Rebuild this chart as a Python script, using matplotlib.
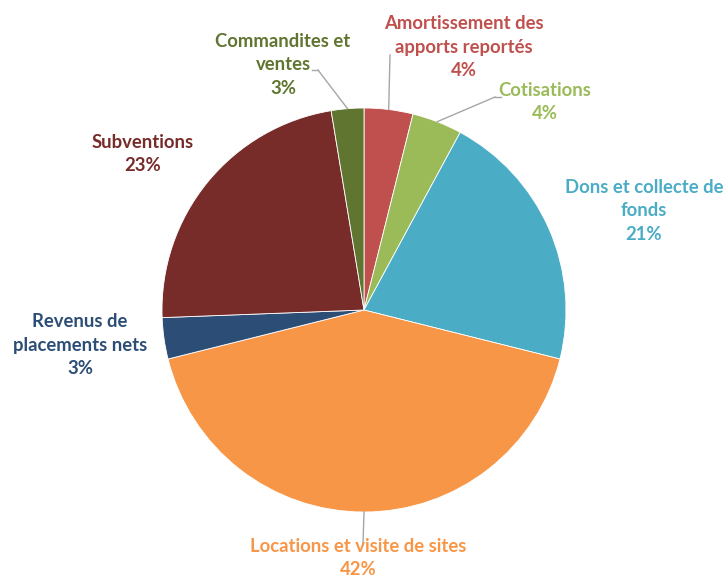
import numpy as np
import matplotlib
matplotlib.use("Agg")
import matplotlib.pyplot as plt

# --- donnees ---
categories = ["Amortissement des\napports reportés", "Cotisations",
              "Dons et collecte de\nfonds", "Locations et visite de sites",
              "Revenus de\nplacements nets", "Subventions", "Commandites et\nventes"]
valeurs = [3.9, 4.0, 21.0, 42.2, 3.3, 23.0, 2.6]
pourcent = ["4%", "4%", "21%", "42%", "3%", "23%", "3%"]
couleurs = ["#C0504D", "#9BBB59", "#4BACC6", "#F79646", "#2C4D75", "#772C2A", "#5F7530"]

# position des etiquettes (pixels, origine en haut a gauche) et coude de la ligne
label_pos = [(464, 47), (545, 102), (644, 211), (358, 558), (80, 345), (143, 154), (283, 65)]
coude = [(390, 55), (495, 97), None, (363, 545), None, None, (318, 70)]

W, H = 725, 576
cx, cy, R = 364, 310, 202

fig = plt.figure(figsize=(W / 100, H / 100), dpi=100)
ax = fig.add_axes([0, 0, 1, 1])

wedges, _ = ax.pie(valeurs, colors=couleurs, startangle=90, counterclock=False,
                   center=(cx, H - cy), radius=R,
                   wedgeprops=dict(edgecolor="white", linewidth=0.6))
ax.set_xlim(0, W)
ax.set_ylim(0, H)
ax.set_aspect("equal")
ax.axis("off")

for i, w in enumerate(wedges):
    lx, ly = label_pos[i]
    ax.text(lx, H - ly, categories[i] + "\n" + pourcent[i], ha="center", va="center",
            color=couleurs[i], fontsize=13.3, fontweight="bold", family="Lato",
            linespacing=1.45)
    if coude[i] is not None:
        ang = np.deg2rad((w.theta1 + w.theta2) / 2)
        ex = cx + R * np.cos(ang)
        ey = (H - cy) + R * np.sin(ang)
        kx, ky = coude[i]
        ax.plot([ex, kx], [ey, H - ky], color="#A6A6A6", lw=1)
        if i in (1, 6):
            dx = 6 if i == 1 else -6
            ax.plot([kx, kx + dx], [H - ky, H - ky], color="#A6A6A6", lw=1)

fig.savefig("out.png", dpi=100)
